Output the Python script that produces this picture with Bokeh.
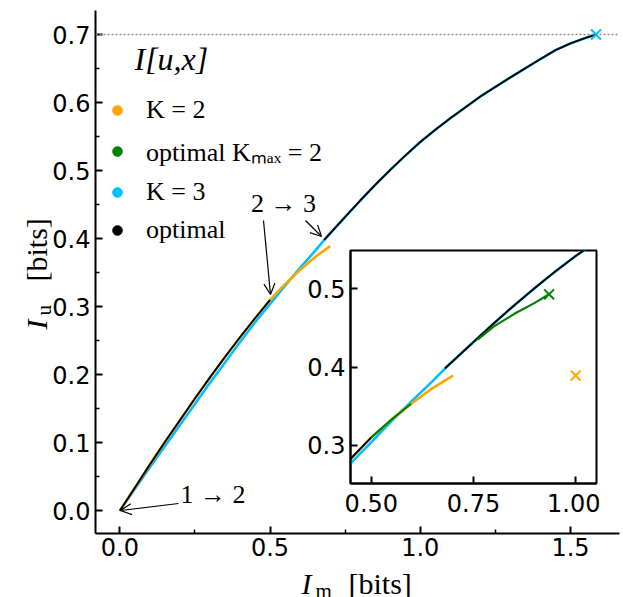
import math
from bokeh.plotting import figure
from bokeh.models import (Range1d, FixedTicker, Span, Label, Arrow, OpenHead,
                          Legend, LegendItem)
from bokeh.layouts import column
from bokeh.embed import file_html
from bokeh.resources import INLINE

# ---------------- data ----------------
# K = 2 (orange)
im_k2 = [0.0, 0.05, 0.10, 0.15, 0.20, 0.25, 0.30, 0.35, 0.40, 0.45, 0.50, 0.55, 0.60, 0.65, 0.70]
iu_k2 = [0.0, 0.034, 0.068, 0.101, 0.133, 0.165, 0.196, 0.226, 0.255, 0.283, 0.310, 0.333, 0.354, 0.373, 0.389]
k2_end_im = [1.0]
k2_end_iu = [0.389]

# K = 3 (cyan)
im_k3 = [0.0, 0.05, 0.10, 0.15, 0.20, 0.25, 0.30, 0.35, 0.40, 0.45, 0.50, 0.55, 0.60, 0.65, 0.68,
         0.75, 0.80, 0.85, 0.90, 0.95, 1.00, 1.05, 1.10, 1.20, 1.30, 1.40, 1.45, 1.50, 1.55, 1.585]
iu_k3 = [0.0, 0.032, 0.064, 0.095, 0.126, 0.157, 0.188, 0.218, 0.248, 0.277, 0.304, 0.331, 0.357, 0.382, 0.398,
         0.432, 0.456, 0.479, 0.501, 0.522, 0.542, 0.560, 0.577, 0.609, 0.637, 0.664, 0.677, 0.687, 0.695, 0.700]
k3_end_im = [1.585]
k3_end_iu = [0.700]

# optimal (black), two pieces
im_opt_a = [0.0, 0.05, 0.10, 0.15, 0.20, 0.25, 0.30, 0.35, 0.40, 0.45, 0.50]
iu_opt_a = [0.0, 0.034, 0.068, 0.101, 0.133, 0.165, 0.196, 0.226, 0.255, 0.283, 0.310]
im_opt_b = [0.68, 0.75, 0.80, 0.85, 0.90, 0.95, 1.00, 1.05, 1.10, 1.20, 1.30, 1.40, 1.45, 1.50, 1.55, 1.585]
iu_opt_b = [0.398, 0.432, 0.456, 0.479, 0.501, 0.522, 0.542, 0.560, 0.577, 0.609, 0.637, 0.664, 0.677, 0.687,
            0.695, 0.700]

# optimal K_max = 2 (green), two pieces
im_kmax_a = [0.50, 0.55, 0.597]
iu_kmax_a = [0.310, 0.333, 0.353]
im_kmax_b = [0.76, 0.80, 0.85, 0.90, 0.935]
iu_kmax_b = [0.435, 0.452, 0.468, 0.482, 0.493]
kmax_end_im = [0.935]
kmax_end_iu = [0.493]

I_ux = 0.70

x_ticks = [0.0, 0.5, 1.0, 1.5]
x_tick_labels = ["0.0", "0.5", "1.0", "1.5"]
x_minor = [0.25, 0.75, 1.25]
y_ticks = [0.0, 0.1, 0.2, 0.3, 0.4, 0.5, 0.6, 0.7]
y_tick_labels = ["0.0", "0.1", "0.2", "0.3", "0.4", "0.5", "0.6", "0.7"]
y_minor = [0.05, 0.15, 0.25, 0.35, 0.45, 0.55, 0.65]

ix_ticks = [0.5, 0.75, 1.0]
ix_tick_labels = ["0.50", "0.75", "1.00"]
iy_ticks = [0.3, 0.4, 0.5]
iy_tick_labels = ["0.3", "0.4", "0.5"]

legend_labels = ["K = 2", "optimal K\u2098\u2090\u2093 = 2", "K = 3", "optimal"]
legend_title = "I[u,x]"
x_label = ("I", "m", "[bits]")
y_label = ("I", "u", "[bits]")

ORANGE = "#FFA500"
GREEN = "#008000"
CYAN = "#00BFFF"
BLACK = "#000000"
legend_colors = [ORANGE, GREEN, CYAN, BLACK]

# ---------------- geometry ----------------
W, H = 623, 597
FL, FR, FT, FB = 95, 619, 10, 533      # main frame edges (page pixels)
BR = W - FR                            # common right border
X0, X1 = -0.081, 1.663
Y0, Y1 = -0.0334, 0.7353


def px2x(px):
    return X0 + (px - FL) / (FR - FL) * (X1 - X0)


def py2y(py):
    return Y0 + (FB - py) / (FB - FT) * (Y1 - Y0)


TICK_FONT = "DejaVu Sans"
SERIF = "Liberation Serif"

p = figure(width=W, height=H, x_range=Range1d(X0, X1), y_range=Range1d(Y0, Y1),
           output_backend="svg", toolbar_location=None,
           min_border_left=FL, min_border_right=BR,
           min_border_top=FT, min_border_bottom=H - FB)
p.outline_line_color = None
p.grid.visible = False
p.background_fill_color = "white"
p.border_fill_color = "white"


def style_axis(ax, ticks, labels, minor=None, standoff=5):
    ax.ticker = FixedTicker(ticks=ticks, minor_ticks=minor or [])
    ax.major_label_overrides = {t: l for t, l in zip(ticks, labels)}
    ax.axis_line_width = 2
    ax.axis_line_color = "black"
    ax.major_tick_in = 7
    ax.major_tick_out = 0
    ax.major_tick_line_width = 2
    ax.minor_tick_in = 4
    ax.minor_tick_out = 0
    ax.minor_tick_line_width = 1.5
    if not minor:
        ax.minor_tick_line_color = None
    ax.major_label_text_font = TICK_FONT
    ax.major_label_text_font_size = "24px"
    ax.major_label_text_color = "black"
    ax.major_label_standoff = standoff
    ax.axis_label = None


style_axis(p.xaxis[0], x_ticks, x_tick_labels, x_minor, standoff=4)
style_axis(p.yaxis[0], y_ticks, y_tick_labels, y_minor, standoff=5)

# reference line
p.add_layout(Span(location=I_ux, dimension="width", line_color="#8c8c8c",
                  line_width=1.5, line_dash="2 2"))

# curves
p.line(im_k3, iu_k3, line_color=CYAN, line_width=2.6)
p.line(im_k2, iu_k2, line_color=ORANGE, line_width=2.6)
p.line(im_opt_a, iu_opt_a, line_color=BLACK, line_width=1.9)
p.line(im_opt_b, iu_opt_b, line_color=BLACK, line_width=1.9)
p.scatter(k3_end_im, k3_end_iu, marker="x", size=14, line_width=2, line_color=CYAN)

# legend (dots only; renderers carry no visible points)
nan = float("nan")
leg_rs = [p.scatter(x=[nan], y=[nan], marker="circle", size=10, fill_color=c, line_color=c)
          for c in legend_colors]
legend = Legend(items=[LegendItem(label=l, renderers=[r]) for l, r in zip(legend_labels, leg_rs)],
                location=(10, 288), orientation="vertical",
                border_line_color=None, background_fill_alpha=0,
                padding=0, margin=0, spacing=8,
                glyph_width=24, glyph_height=24, label_height=24,
                label_standoff=17,
                label_text_font=SERIF, label_text_font_size="26px",
                label_text_color="black")
p.add_layout(legend)


def lbl(fig, x, y, text, size, style="normal", align="left", baseline="alphabetic", angle=0.0):
    fig.add_layout(Label(x=x, y=y, text=text, text_font=SERIF,
                         text_font_style=style, text_font_size=size, text_align=align,
                         text_baseline=baseline, angle=angle, text_color="black"))


# legend title
lbl(p, px2x(134), py2y(58), legend_title, "32px", style="italic", baseline="middle")

# annotations
lbl(p, px2x(180), py2y(494), "1 \u2192 2", "26px", baseline="middle")
p.add_layout(Arrow(x_start=px2x(178), y_start=py2y(503), x_end=px2x(120), y_end=py2y(510),
                   line_width=1.2, end=OpenHead(size=11, line_width=1.2)))
lbl(p, px2x(283), py2y(203), "2 \u2192 3", "26px", align="center", baseline="middle")
p.add_layout(Arrow(x_start=px2x(263), y_start=py2y(220), x_end=px2x(270), y_end=py2y(294),
                   line_width=1.2, end=OpenHead(size=11, line_width=1.2)))
p.add_layout(Arrow(x_start=px2x(305), y_start=py2y(220), x_end=px2x(321), y_end=py2y(236),
                   line_width=1.2, end=OpenHead(size=11, line_width=1.2)))

# ---------------- inset ----------------
IL, IR, IT, IB = 350, 596, 250, 483
IBT, IBB = 5, 45
INSET_H = IBT + (IB - IT) + IBB
inset = figure(width=FL + (IR - IL) + BR, height=INSET_H,
               x_range=Range1d(0.449, 1.051), y_range=Range1d(0.251, 0.549),
               output_backend="svg", toolbar_location=None,
               min_border_left=FL, min_border_right=BR,
               min_border_top=IBT, min_border_bottom=IBB)
inset.grid.visible = False
inset.border_fill_alpha = 0
inset.background_fill_color = "white"
inset.outline_line_color = "black"
inset.outline_line_width = 2
style_axis(inset.xaxis[0], ix_ticks, ix_tick_labels, standoff=10)
style_axis(inset.yaxis[0], iy_ticks, iy_tick_labels, standoff=5)

inset.line(im_k3, iu_k3, line_color=CYAN, line_width=2.6)
inset.line(im_k2, iu_k2, line_color=ORANGE, line_width=2.6)
inset.line(im_opt_a, iu_opt_a, line_color=BLACK, line_width=1.9)
inset.line(im_opt_b, iu_opt_b, line_color=BLACK, line_width=1.9)
inset.line(im_kmax_a, iu_kmax_a, line_color=GREEN, line_width=2.2)
inset.line(im_kmax_b, iu_kmax_b, line_color=GREEN, line_width=2.2)
inset.scatter(kmax_end_im, kmax_end_iu, marker="x", size=14, line_width=2, line_color=GREEN)
inset.scatter(k2_end_im, k2_end_iu, marker="x", size=14, line_width=2, line_color=ORANGE)

INSET_TOP = IT - IBT
inset.margin = (INSET_TOP - H, 0, 0, IL - FL)

# ---------------- overlay for the axis titles (page pixel coordinates) ----------------
# same size and borders as the main plot (a column aligns borders); shifted left so its
# frame covers page x 0 .. OVW and the whole height
OVW = W - FL - BR
ov = figure(width=W, height=H, x_range=Range1d(0, OVW), y_range=Range1d(H, 0),
            output_backend="svg", toolbar_location=None,
            x_axis_location=None, y_axis_location=None,
            min_border_left=FL, min_border_right=BR,
            min_border_top=0, min_border_bottom=0)
ov.grid.visible = False
ov.outline_line_color = None
ov.background_fill_alpha = 0
ov.border_fill_alpha = 0
ov.margin = (-(INSET_TOP + INSET_H), 0, 0, -FL)

lbl(ov, 301, 583, x_label[0], "30px", style="italic")
lbl(ov, 315, 590, x_label[1], "21px")
lbl(ov, 348, 583, x_label[2], "30px")
lbl(ov, 36, 329, y_label[0], "30px", style="italic", angle=math.pi / 2)
lbl(ov, 43, 315, y_label[1], "21px", angle=math.pi / 2)
lbl(ov, 36, 281, y_label[2], "30px", angle=math.pi / 2)

layout = column(p, inset, ov, spacing=0)

open("out.html", "w").write(file_html(layout, INLINE))
